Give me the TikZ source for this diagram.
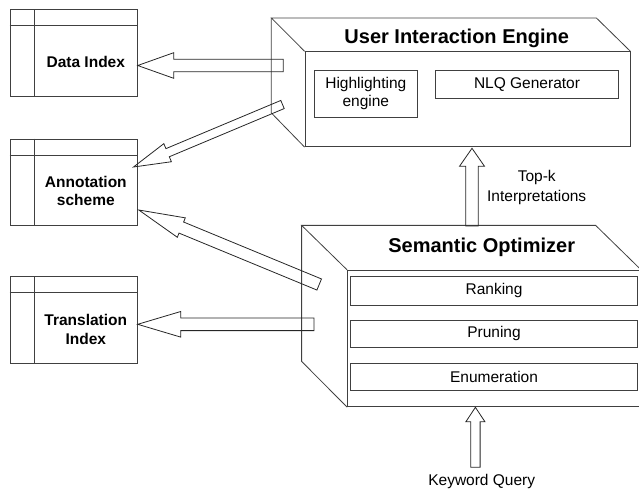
\documentclass[tikz,border=0pt]{standalone}
\usepackage{fontspec}
\setmainfont{Liberation Sans}
\usetikzlibrary{calc}

% hollow block arrow: tail, tip, shaft half width, head half width, head length (all in pt)
\newcommand\blockarrow[5]{%
  \coordinate (#1-#2-base) at ($(#2)!#5pt!(#1)$);
  \draw[blockarr]
    ($(#1)!#3pt!90:(#2)$) -- ($(#1-#2-base)!#3pt!90:(#2)$) --
    ($(#1-#2-base)!#4pt!90:(#2)$) -- (#2) --
    ($(#1-#2-base)!#4pt!-90:(#2)$) -- ($(#1-#2-base)!#3pt!-90:(#2)$) --
    ($(#1)!#3pt!-90:(#2)$) -- cycle;
}

\tikzset{
  outline/.style={draw=black!75, line width=0.8pt},
  blockarr/.style={draw=black!85, line width=0.8pt, line join=miter},
  tbl/.style={outline, rectangle, minimum width=127.3pt, minimum height=86.5pt, inner sep=0pt},
  tbltext/.style={font=\fontsize{15.5}{18.6}\selectfont\bfseries, align=center, inner sep=0pt},
  part/.style={outline, rectangle, inner sep=0pt, font=\fontsize{15.5}{18.6}\selectfont, align=center},
  title/.style={font=\fontsize{20}{24}\selectfont\bfseries, inner sep=0pt},
  plain/.style={font=\fontsize{15.5}{20}\selectfont, align=center, inner sep=0pt},
}

\begin{document}
\begin{tikzpicture}[x=1pt, y=-1pt]
\useasboundingbox (0,0) rectangle (639,488);
\clip (0,0) rectangle (639,488);

% ---------- index tables ----------
\foreach \nm/\cy in {di/52.65, an/182.2, ti/319.7}{
  \node[tbl] (\nm) at (73.65,\cy) {};
  \draw[outline] ($(\nm.north west)+(0,16.5)$) -- ($(\nm.north east)+(0,16.5)$);
  \draw[outline] ($(\nm.north west)+(24.5,0)$) -- ($(\nm.south west)+(24.5,0)$);
}
\node[tbltext] (dilabel) at (85.8,61.5) {Data Index};
\node[tbltext] (anlabel) at (85.8,190.8) {Annotation\\scheme};
\node[tbltext] (tilabel) at (85.8,329.5) {Translation\\Index};

% ---------- User Interaction Engine ----------
\node[outline, rectangle, minimum width=325pt, minimum height=95pt, inner sep=0pt]
  (uie) at (467.5,99.2) {};
\draw[outline] (uie.north west) -- ++(-33.3,-33.4) -- ++(325,0) -- (uie.north east);
\draw[outline] (uie.north west) ++(-33.3,-33.4) -- ++(0,95) -- (uie.south west);
\node[title] (uietitle) at (456.7,38.3) {User Interaction Engine};
\node[part, minimum width=103.7pt, minimum height=47.3pt] (hl) at (365.85,93.65)
  {Highlighting\\[-1pt]engine};
\node[part, minimum width=182.6pt, minimum height=28.3pt] (nlq) at (527,84.15)
  {NLQ Generator};

% ---------- Semantic Optimizer ----------
\node[outline, rectangle, minimum width=296pt, minimum height=136.5pt, inner sep=0pt]
  (so) at (495.5,338.5) {};
\draw[outline] (so.north west) -- ++(-45.5,-44.5) -- ++(294,0) -- ++(45.5,44.5);
\draw[outline] (so.north west) ++(-45.5,-44.5) -- ++(0,136) -- (so.south west);
\node[title] (sotitle) at (481.7,247) {Semantic Optimizer};
\node[part, minimum width=286.6pt, minimum height=28.3pt] (rank) at (494,290.85) {Ranking};
\node[part, minimum width=286.6pt, minimum height=27pt] (prune) at (494,333.5) {Pruning};
\node[part, minimum width=286.6pt, minimum height=27.7pt] (enum) at (494,376.85) {Enumeration};

% ---------- labels ----------
\node[plain] (topk) at (536.7,187) {Top-k\\Interpretations};
\node[plain] (kq) at (481.7,481.5) {Keyword Query};

% ---------- block arrows ----------
\coordinate (t1) at (283.3,65.5);   \coordinate (h1) at (di.east |- t1);
\coordinate (t2) at (282.5,104.5);  \coordinate (h2) at (133.5,167);
\coordinate (t3) at (319.2,284.5);  \coordinate (h3) at (138.8,210);
\coordinate (t4) at (314,324.3);    \coordinate (h4) at (ti.east |- t4);
\coordinate (t5) at (472,226);      \coordinate (h5) at (472,148.3);
\coordinate (t6) at (475.4,467.3);  \coordinate (h6) at (475.4,407.3);

\blockarrow{t1}{h1}{6.2}{12.8}{36}
\blockarrow{t2}{h2}{4.4}{9.8}{37}
\blockarrow{t3}{h3}{6}{10.5}{46}
\blockarrow{t4}{h4}{6.3}{12.8}{43}
\blockarrow{t5}{h5}{6.3}{12.5}{18}
\blockarrow{t6}{h6}{4.7}{9.5}{14.4}
\end{tikzpicture}
\end{document}
